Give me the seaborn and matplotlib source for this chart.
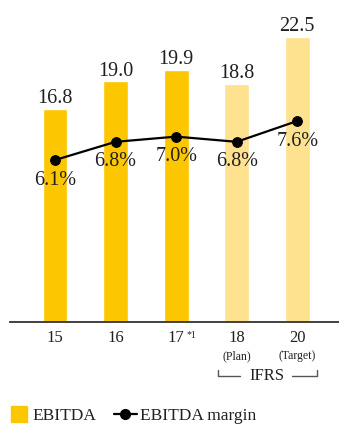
import matplotlib
matplotlib.use("Agg")
import matplotlib.pyplot as plt
import seaborn as sns
import numpy as np
from matplotlib.lines import Line2D

categories = ["15", "16", "17", "18", "20"]
sub_labels = ["", "", "", "(Plan)", "(Target)"]
ebitda = [16.8, 19.0, 19.9, 18.8, 22.5]
margin = [6.1, 6.8, 7.0, 6.8, 7.6]
ebitda_labels = ["16.8", "19.0", "19.9", "18.8", "22.5"]
margin_labels = ["6.1%", "6.8%", "7.0%", "6.8%", "7.6%"]

sns.set_theme(style="white")
plt.rcParams['font.family'] = ['Liberation Serif', 'DejaVu Serif']

DARK = "#FDC700"
LIGHT = "#FEE290"
TXT = "#231F20"
palette = [DARK, DARK, DARK, LIGHT, LIGHT]

fig = plt.figure(figsize=(3.39, 4.25), dpi=100)
ax = fig.add_axes([10/339, 103/425, 329/339, 302/425])
sns.barplot(x=categories, y=ebitda, hue=categories, palette=palette,
            legend=False, width=0.41, saturation=1, ax=ax)
ax.set_xlim(-0.744, 4.69)
ax.set_ylim(0, 23.82)
ax.set_ylabel("")
ax.set_xlabel("")
ax.set_yticks([])
for s in ["top", "right", "left"]:
    ax.spines[s].set_visible(False)
ax.spines["bottom"].set_color("#333333")
ax.spines["bottom"].set_linewidth(1.3)
ax.set_xticks(range(len(categories)))
ax.set_xticklabels(categories, fontsize=12, color=TXT)
ax.tick_params(axis="x", length=0, pad=5.5)

for i, (v, lbl) in enumerate(zip(ebitda, ebitda_labels)):
    ax.annotate(lbl, (i, v), xytext=(0, 4), textcoords="offset points",
                ha="center", va="baseline", fontsize=14.5, color=TXT)

xt = ax.get_xaxis_transform()
for i, s in enumerate(sub_labels):
    if s:
        ax.annotate(s, (i, 0), xycoords=xt, xytext=(0, -24.5), textcoords="offset points",
                    ha="center", va="center", fontsize=8.5, color=TXT, annotation_clip=False)
ax.annotate("*1", (2, 0), xycoords=xt, xytext=(11, -9.5), textcoords="offset points",
            ha="center", va="center", fontsize=7, color=TXT, annotation_clip=False)

# IFRS bracket
yb, yt = -0.1775, -0.1576
bc = "#555555"
for xs, ys in [([2.69, 2.69, 3.06], [yt, yb, yb]), ([3.92, 4.33, 4.33], [yb, yb, yt])]:
    ax.add_line(Line2D(xs, ys, transform=xt, color=bc, lw=1.0, clip_on=False))
ax.text(3.50, yb, "IFRS", transform=xt, ha="center", va="center", fontsize=12, color=TXT)

ax2 = ax.twinx()
sns.lineplot(x=np.arange(len(categories)), y=margin, ax=ax2, color="black", lw=1.6,
             marker="o", markersize=7, markeredgecolor="black")
ax2.set_ylim(-0.13, 11.485)
ax2.set_yticks([])
ax2.set_ylabel("")
for s in ["top", "right", "left", "bottom"]:
    ax2.spines[s].set_visible(False)
for i, (v, lbl) in enumerate(zip(margin, margin_labels)):
    ax2.annotate(lbl, (i, v), xytext=(0, -14.4), textcoords="offset points",
                 ha="center", va="center", fontsize=14.5, color=TXT)

handles = [Line2D([], [], marker="s", ls="", color=DARK, markersize=11),
           Line2D([], [], marker="o", color="black", lw=1.6, markersize=7)]
fig.legend(handles, ["EBITDA", "EBITDA margin"], loc="lower left",
           bbox_to_anchor=(7/339, 1/425), ncol=2, frameon=False, fontsize=12.5,
           handlelength=1.33, handletextpad=0.15, columnspacing=1.0,
           borderpad=0, borderaxespad=0, labelcolor=TXT)

fig.savefig("out.png", dpi=100)
